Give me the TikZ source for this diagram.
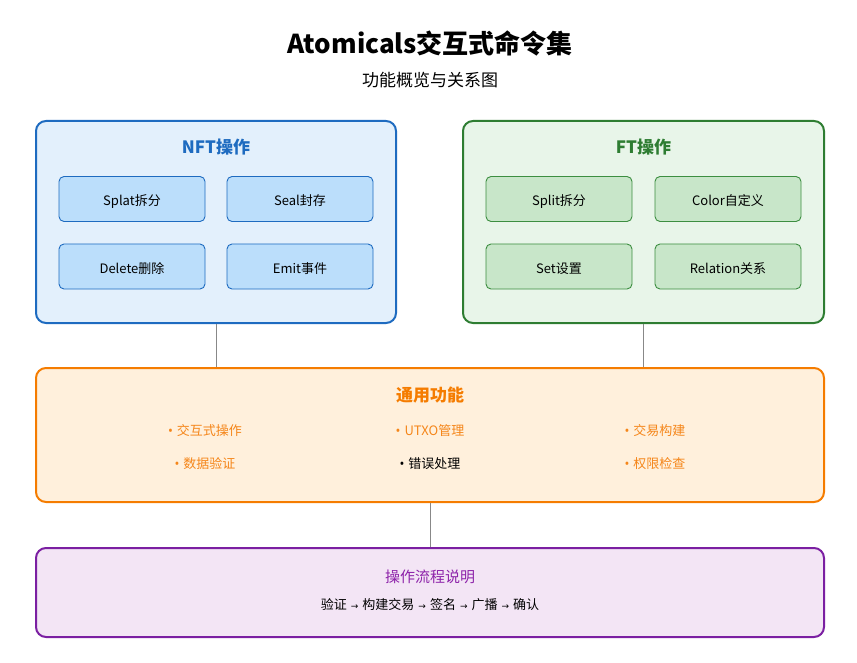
\documentclass[tikz,border=0pt]{standalone}
\usepackage{fontspec}
\setmainfont{Noto Sans CJK SC}
\newfontfamily\latinfont{Noto Sans}
\newfontfamily\symfont{DejaVu Sans}
\newcommand{\bul}{{\latinfont •}\hspace{4pt}}
\newcommand{\arr}{\hspace{4pt}{\symfont\fontsize{9}{11}\selectfont →}\hspace{4pt}}
\usetikzlibrary{positioning}
\definecolor{nftline}{HTML}{1E6BC0}
\definecolor{nftfill}{HTML}{E3F0FC}
\definecolor{nftsub}{HTML}{BBDEFB}
\definecolor{ftline}{HTML}{2E7D32}
\definecolor{ftfill}{HTML}{E8F5E9}
\definecolor{ftsub}{HTML}{C8E6C9}
\definecolor{ftsubline}{HTML}{3C8E40}
\definecolor{genline}{HTML}{F57C00}
\definecolor{genfill}{HTML}{FFF0DC}
\definecolor{gentext}{HTML}{F5861A}
\definecolor{procline}{HTML}{7B1FA2}
\definecolor{procfill}{HTML}{F3E5F5}
\definecolor{proctext}{HTML}{8E24AA}
\definecolor{conn}{HTML}{888888}
\tikzset{
  x=1pt, y=-1pt,
  bigbox/.style={draw, line width=2pt, rounded corners=10pt},
  subbox/.style={draw, line width=0.9pt, rounded corners=5pt, minimum width=146pt, minimum height=45pt, inner sep=0pt, text height=13pt, text depth=0pt, font=\fontsize{13}{15}\selectfont},
  nftsubbox/.style={subbox, fill=nftsub, draw=nftline},
  ftsubbox/.style={subbox, fill=ftsub, draw=ftsubline},
  boxtitle/.style={font=\fontsize{17}{20}\selectfont\bfseries},
  item/.style={font=\fontsize{13}{15}\selectfont, text=gentext},
  connector/.style={draw=conn, line width=1pt}
}
\begin{document}
\begin{tikzpicture}
\useasboundingbox (0,0) rectangle (857,663);
\node[font=\fontsize{26}{30}\selectfont\bfseries] (title) at (430,43) {Atomicals交互式命令集};
\node[font=\fontsize{17}{20}\selectfont] (subtitle) at (430,80) {功能概览与关系图};

% NFT
\node[bigbox, draw=nftline, fill=nftfill, minimum width=360pt, minimum height=202pt, inner sep=0pt] (nft) at (216,222) {};
\node[boxtitle, text=nftline] (nfttitle) at (216,147) {NFT操作};
\node[nftsubbox] (splat) at (132,199) {Splat拆分};
\node[nftsubbox] (seal) at (300,199) {Seal封存};
\node[nftsubbox] (delete) at (132,266.5) {Delete删除};
\node[nftsubbox] (emit) at (300,266.5) {Emit事件};

% FT
\node[bigbox, draw=ftline, fill=ftfill, minimum width=361pt, minimum height=202pt, inner sep=0pt] (ft) at (643.5,222) {};
\node[boxtitle, text=ftline] (fttitle) at (643.5,147) {FT操作};
\node[ftsubbox] (split) at (559,199) {Split拆分};
\node[ftsubbox] (color) at (728,199) {Color自定义};
\node[ftsubbox] (set) at (559,266.5) {Set设置};
\node[ftsubbox] (relation) at (728,266.5) {Relation关系};

% General
\node[bigbox, draw=genline, fill=genfill, minimum width=788pt, minimum height=134pt, inner sep=0pt] (gen) at (430,435) {};
\node[boxtitle, text=genline] (gentitle) at (430,395) {通用功能};
\node[item] (g1) at (205,431) {\bul 交互式操作};
\node[item] (g2) at (430,431) {\bul UTXO管理};
\node[item] (g3) at (655,431) {\bul 交易构建};
\node[item] (g4) at (205,464) {\bul 数据验证};
\node[item, text=black] (g5) at (430,464) {\bul 错误处理};
\node[item] (g6) at (655,464) {\bul 权限检查};

% Process
\node[bigbox, draw=procline, fill=procfill, minimum width=788pt, minimum height=89pt, inner sep=0pt] (proc) at (430,592.5) {};
\node[font=\fontsize{15}{18}\selectfont, text=proctext] (proctitle) at (430,577) {操作流程说明};
\node[font=\fontsize{13}{15}\selectfont] (procflow) at (430,605) {验证\arr 构建交易\arr 签名\arr 广播\arr 确认};

% connectors
\draw[connector] (nft.south) -- (nft.south |- gen.north);
\draw[connector] (ft.south) -- (ft.south |- gen.north);
\draw[connector] (gen.south) -- (proc.north);
\end{tikzpicture}
\end{document}
